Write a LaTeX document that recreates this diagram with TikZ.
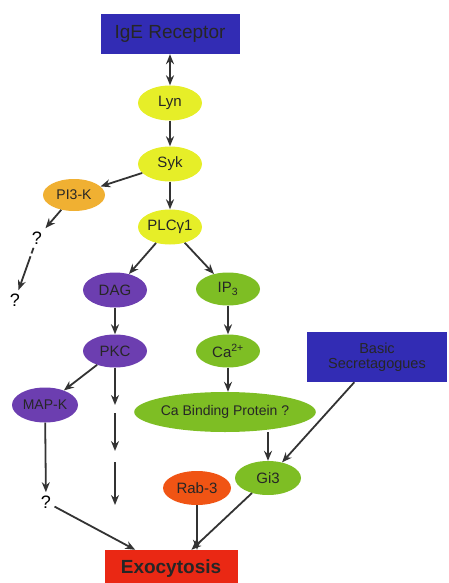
\documentclass[tikz,border=0pt]{standalone}
\usepackage{fontspec}
\setmainfont{Liberation Sans}
\usetikzlibrary{shapes.geometric,arrows.meta}
\definecolor{recblue}{RGB}{50,44,180}
\definecolor{lynyellow}{RGB}{230,238,40}
\definecolor{piorange}{RGB}{240,176,50}
\definecolor{dagpurple}{RGB}{108,62,176}
\definecolor{ipgreen}{RGB}{126,190,36}
\definecolor{rabred}{RGB}{240,84,20}
\definecolor{exored}{RGB}{234,40,20}

\begin{document}
\begin{tikzpicture}[x=1pt,y=-1pt,
    mol/.style={ellipse,inner sep=0pt,minimum width=64pt,minimum height=35pt,
      text=black!85,font=\fontsize{15}{15}\selectfont},
    box/.style={rectangle,inner sep=0pt,fill=recblue,text=black!85},
    arr/.style={-{Stealth[length=10pt,width=8pt]},line width=1.8pt,draw=black!80}]
    \useasboundingbox (0,0) rectangle (449,583);

    \node[box,minimum width=139pt,minimum height=40pt,font=\fontsize{19}{19}\selectfont] (ige) at (170,34) {IgE Receptor};
    \node[mol,fill=lynyellow] (lyn) at (170,103) {Lyn};
    \node[mol,fill=lynyellow] (syk) at (170,164) {Syk};
    \node[mol,fill=lynyellow] (plc) at (170,227) {PLCγ1};
    \node[mol,fill=piorange,minimum width=62pt,minimum height=32pt,font=\fontsize{14}{14}\selectfont] (pik) at (74,195) {PI3-K};
    \node[font=\fontsize{18}{18}\selectfont] (qa) at (37,238) {?};
    \node[font=\fontsize{18}{18}\selectfont] (qb) at (15,300) {?};

    \node[mol,fill=dagpurple] (dag) at (115,290) {DAG};
    \node[mol,fill=dagpurple,minimum height=33pt] (pkc) at (115,351) {PKC};
    \node[mol,fill=dagpurple,minimum width=66pt,font=\fontsize{14}{14}\selectfont] (mapk) at (45,405) {MAP-K};
    \node[mol,fill=ipgreen,minimum height=33pt] (ip) at (228,289) {IP\textsubscript{3}};
    \node[mol,fill=ipgreen,minimum height=33pt] (ca) at (228,351) {Ca\textsuperscript{2+}};
    \node[mol,fill=ipgreen,minimum width=174pt,minimum height=40pt,font=\fontsize{14}{14}\selectfont] (cabp) at (225,412) {Ca Binding Protein ?};
    \node[mol,fill=ipgreen,minimum width=66pt,minimum height=34pt] (gi) at (268,478) {Gi3};
    \node[mol,fill=rabred,minimum width=68pt,minimum height=34pt] (rab) at (197,488) {Rab-3};
    \node[box,minimum width=140pt,minimum height=50pt,align=center,font=\fontsize{14.5}{15}\selectfont] (sec) at (377,357) {Basic\\Secretagogues};
    \node[font=\fontsize{18}{18}\selectfont] (qc) at (46,502) {?};
    \node[box,fill=exored,minimum width=133pt,minimum height=38pt,font=\bfseries\fontsize{19}{19}\selectfont] (exo) at (171,569) {Exocytosis};

    % PKC column
    \coordinate (c1) at (115,405);
    \coordinate (c2) at (115,413);
    \coordinate (c3) at (115,451);
    \coordinate (c4) at (115,462);
    \coordinate (c5) at (115,505);

    \draw[arr,{Stealth[length=10pt,width=8pt]}-{Stealth[length=10pt,width=8pt]}] (ige) -- (lyn);
    \draw[arr] (lyn) -- (syk);
    \draw[arr] (syk) -- (plc);
    \draw[arr] (syk) -- (pik);
    \draw[arr] (pik) -- (qa);
    \draw[arr,dash pattern=on 6pt off 3pt on 80pt off 0pt] (qa) -- (qb);
    \draw[arr] (plc) -- (dag);
    \draw[arr] (plc) -- (ip);
    \draw[arr] (dag) -- (pkc);
    \draw[arr] (pkc) -- (mapk);
    \draw[arr] (pkc) -- (c1);
    \draw[arr] (c2) -- (c3);
    \draw[arr] (c4) -- (c5);
    \draw[arr] (mapk) -- (qc);
    \draw[arr] (qc) -- (exo);
    \draw[arr] (ip) -- (ca);
    \draw[arr] (ca) -- (ca |- cabp.north);
    \draw[arr] (gi |- cabp.south) -- (gi);
    \draw[arr] (sec) -- (gi);
    \draw[arr] (rab) -- (rab |- exo.north);
    \draw[arr] (gi) -- (exo);
\end{tikzpicture}
\end{document}
